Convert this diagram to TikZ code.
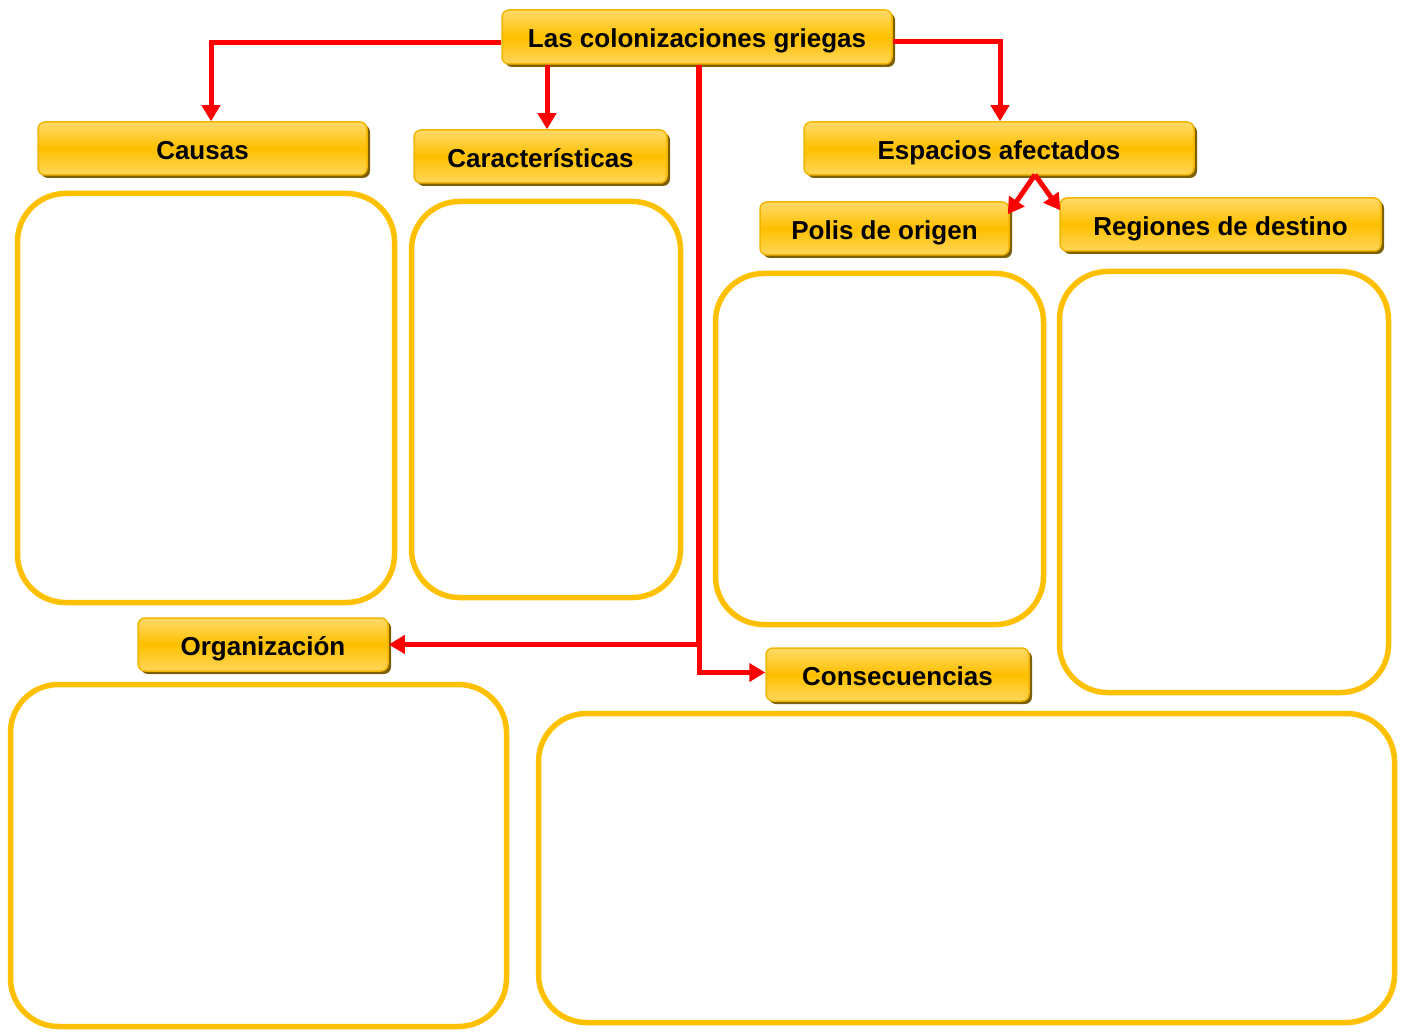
\documentclass[tikz,border=0pt]{standalone}
\usepackage{fontspec}
\setmainfont{Liberation Sans}
\usetikzlibrary{arrows.meta,shadows,calc}
\definecolor{gold}{HTML}{FFC000}
\definecolor{goldlight}{HTML}{FFDA6A}
\definecolor{goldedge}{HTML}{F2B600}
\definecolor{shadowc}{HTML}{7F6000}
\definecolor{arrred}{HTML}{FF0000}
\tikzset{
  header/.style={rectangle, rounded corners=7pt, draw=goldedge, line width=1.5pt,
    top color=goldlight, bottom color=goldlight!85!gold, middle color=gold,
    drop shadow={shadow xshift=3pt, shadow yshift=-3pt, fill=shadowc, opacity=1},
    font=\fontsize{26}{30}\selectfont\bfseries, text=black, inner sep=0pt,
    text height=24pt, text depth=2pt},
  bigbox/.style={rectangle, rounded corners=48pt, draw=gold, line width=5.5pt, inner sep=0pt},
  arr/.style={draw=arrred, line width=5pt, -{Triangle[length=16pt,width=18pt]}}
}
\begin{document}
\begin{tikzpicture}[x=1pt,y=-1pt]
\useasboundingbox (0,0) rectangle (1402,1032);
% big boxes
\node[bigbox, minimum width=377pt, minimum height=409pt] (causasbox) at (206,398) {};
\node[bigbox, minimum width=269pt, minimum height=396pt] (caracbox) at (546,399.5) {};
\node[bigbox, minimum width=328pt, minimum height=351pt] (polisbox) at (879.5,449) {};
\node[bigbox, minimum width=329pt, minimum height=421pt] (regbox) at (1224,482) {};
\node[bigbox, minimum width=496pt, minimum height=342pt] (orgbox) at (258.5,855.5) {};
\node[bigbox, minimum width=856pt, minimum height=309pt] (consbox) at (966.5,868) {};
% headers
\node[header, minimum width=390pt, minimum height=54pt] (title) at (697,37) {Las colonizaciones griegas};
\node[header, minimum width=329pt, minimum height=53pt] (causas) at (202.5,148.5) {Causas};
\node[header, minimum width=253pt, minimum height=53pt] (carac) at (540.5,156.5) {Características};
\node[header, minimum width=390pt, minimum height=53pt] (esp) at (999,148.5) {Espacios afectados};
\node[header, minimum width=249pt, minimum height=53pt] (polis) at (884.5,228.5) {Polis de origen};
\node[header, minimum width=321pt, minimum height=53pt] (reg) at (1220.5,224.5) {Regiones de destino};
\node[header, minimum width=250pt, minimum height=53pt] (org) at (263,644.5) {Organización};
\node[header, minimum width=263pt, minimum height=53pt] (cons) at (897.5,674.5) {Consecuencias};
% connectors
\draw[arr] ([yshift=-6pt]title.west) -| ([xshift=8.5pt]causas.north);
\draw[arr] ([xshift=-150pt]title.south) -- ([xshift=-150pt]title.south |- carac.north);
\draw[arr] ([yshift=-5pt]title.east) -| ([xshift=1pt]esp.north);
\draw[arr] ([xshift=1pt]title.south) |- (org.east);
\draw[arr] ([xshift=2pt]title.south) |- ([yshift=2pt]cons.west);
\coordinate (split) at ([xshift=36pt,yshift=1pt]esp.south);
\draw[arr] (split) -- ([xshift=-2pt,yshift=-13pt]polis.north east);
\draw[arr] (split) -- ([xshift=1pt,yshift=-13pt]reg.north west);
\end{tikzpicture}
\end{document}
